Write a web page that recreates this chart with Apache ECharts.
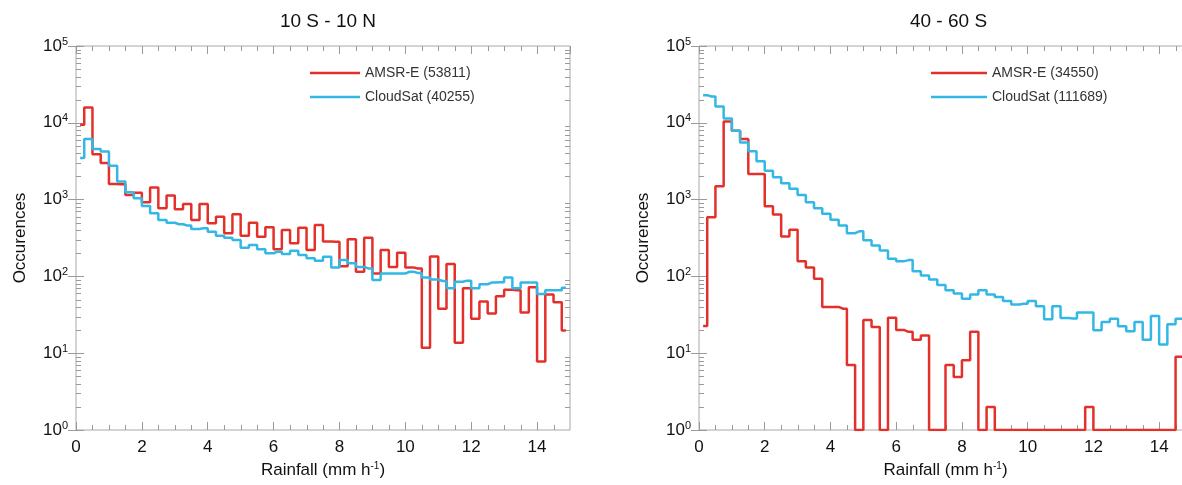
<!DOCTYPE html>
<html lang="en">
<head>
    <meta charset="utf-8">
    <title>Rainfall occurrences</title>
    <script src="https://cdn.jsdelivr.net/npm/echarts@6/dist/echarts.min.js"></script>
    <style type="text/css">
        html, body { margin: 0; background: #fff; }
        #main { width: 1182px; height: 485px; }
    </style>
</head>
<body>
    <div id="main"></div>
    <script type="text/javascript">
        // histogram bins, 0.25 mm/h wide, 0 - 15 mm/h
        const binWidth = 0.25;
        const binCount = 60;
        const binCenters = Array.from({ length: binCount }, (_, i) => binWidth * (i + 0.5));

        // 10 S - 10 N
        const tropicsAmsr = [
            9400, 15800, 3900, 3000, 1600, 1580, 1150, 1230, 925, 1435,
            773, 1127, 748, 879, 543, 879, 492, 600, 364, 645,
            339, 500, 329, 435, 225, 402, 270, 431, 220, 466,
            285, 283, 136, 304, 115, 319, 109, 220, 133, 203,
            131, 127, 11.8, 182, 38, 145, 13.7, 70, 28, 47,
            33, 55, 67, 66, 34, 72, 7.8, 58, 46, 19.7
        ];
        const tropicsCloudsat = [
            3470, 6140, 4550, 4240, 2750, 1720, 1250, 1043, 828, 664,
            543, 500, 478, 460, 414, 425, 382, 339, 319, 298,
            236, 256, 225, 200, 210, 196, 216, 190, 172, 160,
            180, 131, 163, 148, 133, 127, 90, 109, 109, 109,
            115, 111, 97, 91, 87, 70, 85, 88, 70, 79,
            83, 84, 97, 70, 83, 83, 59, 66, 66, 71
        ];

        // 40 - 60 S (values of 1 sit on the axis floor)
        const midlatAmsr = [
            22.6, 589, 1490, 10400, 7870, 6140, 2150, 2150, 818, 638,
            331, 404, 158, 131, 93, 40, 40, 38, 7, 1,
            27, 22, 1, 29, 20, 19, 15, 17, 1, 1,
            7, 4.9, 8.1, 19, 1, 2, 1, 1, 1, 1,
            1, 1, 1, 1, 1, 1, 1, 2, 1, 1,
            1, 1, 1, 1, 1, 1, 1, 1, 9, 9
        ];
        const midlatCloudsat = [
            22900, 22000, 16300, 11400, 7870, 5560, 4250, 3150, 2380, 1950,
            1630, 1380, 1150, 923, 771, 652, 545, 460, 365, 387,
            296, 253, 218, 170, 158, 163, 117, 103, 91, 77,
            66, 60, 51, 58, 66, 58, 54, 48, 43, 44,
            48, 41, 27.7, 41, 28.8, 28.3, 34, 34, 19.9, 25.5,
            28, 22.4, 19.3, 25.5, 15, 30.5, 13, 23.8, 28, 28
        ];

        const panelTitles = ['10 S - 10 N', '40 - 60 S'];
        const amsrNames = ['AMSR-E (53811)', 'AMSR-E (34550)'];
        const cloudsatNames = ['CloudSat (40255)', 'CloudSat (111689)'];

        const fontFamily = '"Liberation Sans", Arial, sans-serif';
        const tickColor = '#9a9a9a';
        const red = '#e4302a';
        const cyan = '#33b8e6';

        // minor ticks: 2..9 per decade on y, every 0.5 on x
        const logMinor = [];
        for (let d = 1; d <= 10000; d *= 10) for (let m = 2; m <= 9; m++) logMinor.push(m * d);
        const xMinor = [];
        for (let v = 0.5; v < 15; v += 0.5) if (v % 2 !== 0) xMinor.push(v);

        // the right panel runs past the page edge, as in the original figure
        const grids = [
            { left: 76, top: 46, width: 494, height: 384 },
            { left: 699, top: 46, width: 493, height: 384 }
        ];
        const legendSpots = [{ left: 310, itemWidth: 50 }, { left: 931, itemWidth: 56 }];

        var myChart = echarts.init(document.getElementById('main'));

        var option = {
            animation: false,
            title: [],
            legend: [],
            grid: [],
            xAxis: [],
            yAxis: [],
            series: []
        };

        function AddPanel(g, amsr, cloudsat) {
            var gr = grids[g];
            option.grid.push(Object.assign({
                show: true, borderColor: '#a8a8a8', borderWidth: 1,
                containLabel: false, outerBoundsMode: 'none'
            }, gr));

            option.title.push({
                text: panelTitles[g],
                left: gr.left + gr.width / 2 - (g == 1 ? 2 : 0),
                top: 7,
                textAlign: 'center',
                textStyle: { fontFamily: fontFamily, fontSize: 19, fontWeight: 'normal', color: '#111' }
            });

            option.legend.push({
                orient: 'vertical',
                left: legendSpots[g].left,
                top: 66,
                padding: 0,
                icon: 'rect',
                itemWidth: legendSpots[g].itemWidth,
                itemHeight: 2.5,
                itemGap: 10,
                data: [amsrNames[g], cloudsatNames[g]],
                textStyle: { fontFamily: fontFamily, fontSize: 14, color: '#333' }
            });

            var tick = { inside: true, length: 8, lineStyle: { color: tickColor } };
            option.xAxis.push({
                gridIndex: g, type: 'value', min: 0, max: 15, interval: 2, position: 'bottom',
                axisLine: { show: false }, splitLine: { show: false }, axisTick: tick,
                axisLabel: {
                    margin: 9, showMaxLabel: false,
                    fontFamily: fontFamily, fontSize: 17, color: '#111'
                },
                name: '{n|Rainfall (mm h}{s|-1}{n|)}',
                nameLocation: 'middle',
                nameGap: 31,
                nameTextStyle: {
                    rich: {
                        n: { fontFamily: fontFamily, fontSize: 17, color: '#111' },
                        s: { fontFamily: fontFamily, fontSize: 10, color: '#111', padding: [0, 0, 9, 0] }
                    }
                }
            });
            option.xAxis.push({
                gridIndex: g, type: 'value', min: 0, max: 15, interval: 2, position: 'top',
                axisLine: { show: false }, splitLine: { show: false }, axisTick: tick,
                axisLabel: { show: false }
            });
            option.yAxis.push({
                gridIndex: g, type: 'log', logBase: 10, min: 1, max: 100000, interval: 1, position: 'left',
                axisLine: { show: false }, splitLine: { show: false }, axisTick: tick,
                axisLabel: {
                    margin: 8,
                    formatter: function (v) { return '{b|10}{s|' + Math.round(Math.log10(v)) + '}'; },
                    rich: {
                        b: { fontFamily: fontFamily, fontSize: 17, color: '#111' },
                        s: { fontFamily: fontFamily, fontSize: 11, color: '#111', padding: [0, 0, 9, 0] }
                    }
                },
                name: 'Occurences',
                nameLocation: 'middle',
                nameGap: 47,
                nameTextStyle: { fontFamily: fontFamily, fontSize: 17, color: '#111' }
            });
            option.yAxis.push({
                gridIndex: g, type: 'log', logBase: 10, min: 1, max: 100000, interval: 1, position: 'right',
                axisLine: { show: false }, splitLine: { show: false }, axisTick: tick,
                axisLabel: { show: false }
            });

            var ai = g * 2;
            // log minor ticks on left/right frame
            option.series.push({
                type: 'custom', xAxisIndex: ai, yAxisIndex: ai, silent: true, clip: false, z: 1,
                data: logMinor.map(v => [0, v]),
                renderItem: function (params, api) {
                    var cs = params.coordSys;
                    var y = Math.round(api.coord([api.value(0), api.value(1)])[1]) + 0.5;
                    var st = { stroke: tickColor, lineWidth: 1 };
                    return {
                        type: 'group', children: [
                            { type: 'line', shape: { x1: cs.x, y1: y, x2: cs.x + 5, y2: y }, style: st },
                            { type: 'line', shape: { x1: cs.x + cs.width - 5, y1: y, x2: cs.x + cs.width, y2: y }, style: st }
                        ]
                    };
                }
            });
            // x minor ticks on bottom/top frame
            option.series.push({
                type: 'custom', xAxisIndex: ai, yAxisIndex: ai, silent: true, clip: false, z: 1,
                data: xMinor.map(v => [v, 1]),
                renderItem: function (params, api) {
                    var cs = params.coordSys;
                    var x = Math.round(api.coord([api.value(0), api.value(1)])[0]) + 0.5;
                    var st = { stroke: tickColor, lineWidth: 1 };
                    return {
                        type: 'group', children: [
                            { type: 'line', shape: { x1: x, y1: cs.y + cs.height, x2: x, y2: cs.y + cs.height - 5 }, style: st },
                            { type: 'line', shape: { x1: x, y1: cs.y, x2: x, y2: cs.y + 5 }, style: st }
                        ]
                    };
                }
            });

            [[amsrNames[g], amsr, red], [cloudsatNames[g], cloudsat, cyan]].forEach(function (s) {
                option.series.push({
                    name: s[0],
                    type: 'line',
                    step: 'middle',
                    xAxisIndex: ai,
                    yAxisIndex: ai,
                    symbol: 'none',
                    color: s[2],
                    lineStyle: { color: s[2], width: 2.5 },
                    data: binCenters.map((x, i) => [x, s[1][i]]),
                    z: 3
                });
            });
        }

        AddPanel(0, tropicsAmsr, tropicsCloudsat);
        AddPanel(1, midlatAmsr, midlatCloudsat);

        myChart.setOption(option);
    </script>
</body>
</html>
